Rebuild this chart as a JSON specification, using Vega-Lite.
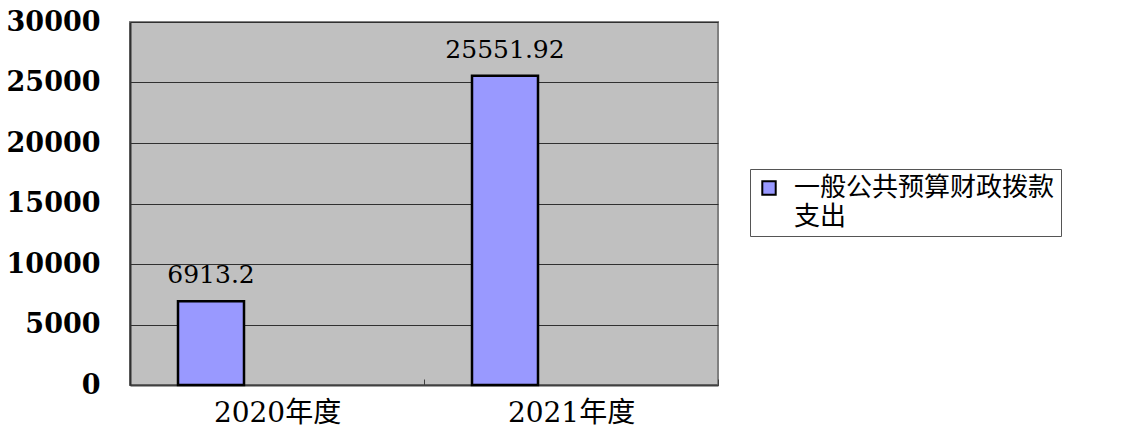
{
  "$schema": "https://vega.github.io/schema/vega-lite/v6.json",
  "width": 588,
  "height": 363,
  "autosize": "none",
  "padding": {"left": 130, "top": 22, "right": 420, "bottom": 48},
  "background": "white",
  "data": {"values": [
    {"year": "2020年度", "value": 6913.2, "series": "一般公共预算财政拨款支出"},
    {"year": "2021年度", "value": 25551.92, "series": "一般公共预算财政拨款支出"}
  ]},
  "config": {
    "view": {"fill": "#C0C0C0", "stroke": "#808080", "strokeWidth": 2},
    "font": "DejaVu Serif, Noto Sans CJK SC",
    "style": {"guide-label": {"lineHeight": 29}}
  },
  "encoding": {
    "x": {"field": "year", "type": "nominal", "sort": null,
      "scale": {"paddingInner": 0, "paddingOuter": 0},
      "axis": {"title": null, "labelAngle": 0, "labelFontSize": 28, "labelFont": "DejaVu Serif, Noto Sans CJK SC", "labelColor": "#000", "labelPadding": 20, "tickBand": "extent", "tickSize": -6, "tickColor": "#404040", "domainColor": "#404040", "domainWidth": 2, "grid": false}},
    "y": {"field": "value", "type": "quantitative",
      "scale": {"domain": [0, 30000], "nice": false},
      "axis": {"title": null, "values": [0, 5000, 10000, 15000, 20000, 25000, 30000], "format": "d", "labelFontSize": 27, "labelFontWeight": 600, "labelColor": "#000", "labelPadding": 30, "ticks": false, "domainColor": "#303030", "domainWidth": 2, "gridColor": "#303030", "gridWidth": 1.2, "gridOpacity": 1}}
  },
  "layer": [
    {
      "mark": {"type": "bar", "width": 66, "xOffset": -66, "fill": "#9999FF", "stroke": "#000", "strokeWidth": 2.5},
      "encoding": {
        "color": {"field": "series", "type": "nominal", "scale": {"range": ["#9999FF"]},
          "legend": {"title": null, "orient": "none", "legendX": 620, "legendY": 147, "strokeColor": "#555", "padding": 6, "fillColor": "white",
            "labelFontSize": 26, "labelFont": "Noto Sans CJK SC", "labelColor": "#000", "labelLimit": 600, "labelOffset": 12,
            "symbolType": "square", "symbolSize": 180, "symbolStrokeColor": "#000", "symbolStrokeWidth": 2, "symbolFillColor": "#9999FF",
            "labelExpr": "[slice(datum.label, 0, 10), slice(datum.label, 10)]", "labelBaseline": "middle"}}
      }
    },
    {
      "mark": {"type": "text", "xOffset": -66, "dy": -13, "baseline": "bottom", "fontSize": 25, "font": "DejaVu Serif", "color": "#000"},
      "encoding": {
        "text": {"field": "value", "type": "quantitative", "format": ".7~g"}
      }
    }
  ]
}
